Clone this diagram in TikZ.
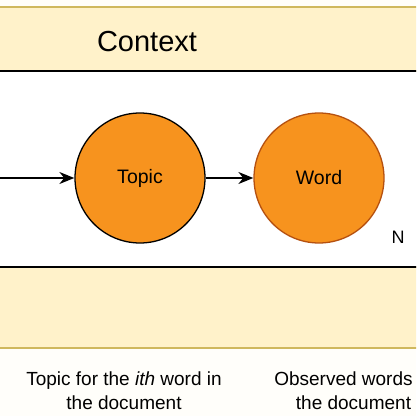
\documentclass[tikz,border=0pt]{standalone}
\usepackage{fontspec}
\setmainfont{Liberation Sans}
\usetikzlibrary{positioning,arrows.meta}

\definecolor{bandfill}{HTML}{FFF2CA}
\definecolor{bandline}{HTML}{CFB85E}
\definecolor{nodefill}{HTML}{F7931E}
\definecolor{wordline}{HTML}{B5500F}

\tikzset{
	band/.style={fill=bandfill, draw=bandline, line width=1.2pt},
	var/.style={circle, draw, fill=nodefill, line width=1.3pt, minimum size=130pt, inner sep=0pt, font=\fontsize{19.5}{23}\selectfont},
	edge/.style={-{Stealth[length=15pt, width=12pt]}, line width=1.4pt},
	caption/.style={align=center, font=\fontsize{19}{24}\selectfont}
}

\begin{document}
\begin{tikzpicture}[x=1pt, y=1pt]
		\useasboundingbox (0, 0) rectangle (416, 416);
		\clip (0, 0) rectangle (416, 416);
		\fill[white!90!bandfill] (0, 0) rectangle (416, 416);
		% context band, plate, lower band
		\draw[band] (-10, 345) rectangle (426, 409);
		\draw[band] (-10, 68) rectangle (426, 149);
		\draw[line width=2pt, fill=white] (-10, 149) rectangle (426, 345);
		\node[font=\fontsize{29}{34}\selectfont] (ctx) at (147, 374) {Context};
		\node[var] (T) at (140, 238) {Topic};
		\node[var, draw=wordline] (W) at (319, 238) {Word};
		\node[font=\fontsize{18}{22}\selectfont] (N) at (398, 179) {N};
		\coordinate (src) at (-10, 238);
		\draw[edge] (src) -- (T);
		\draw[edge] (T) -- (W);
		\node[caption] (capT) at (124, 25) {Topic for the \textit{ith} word in\\the document};
		\node[caption] (capW) at (353.5, 25) {Observed words in\\the document};
	\end{tikzpicture}
\end{document}
